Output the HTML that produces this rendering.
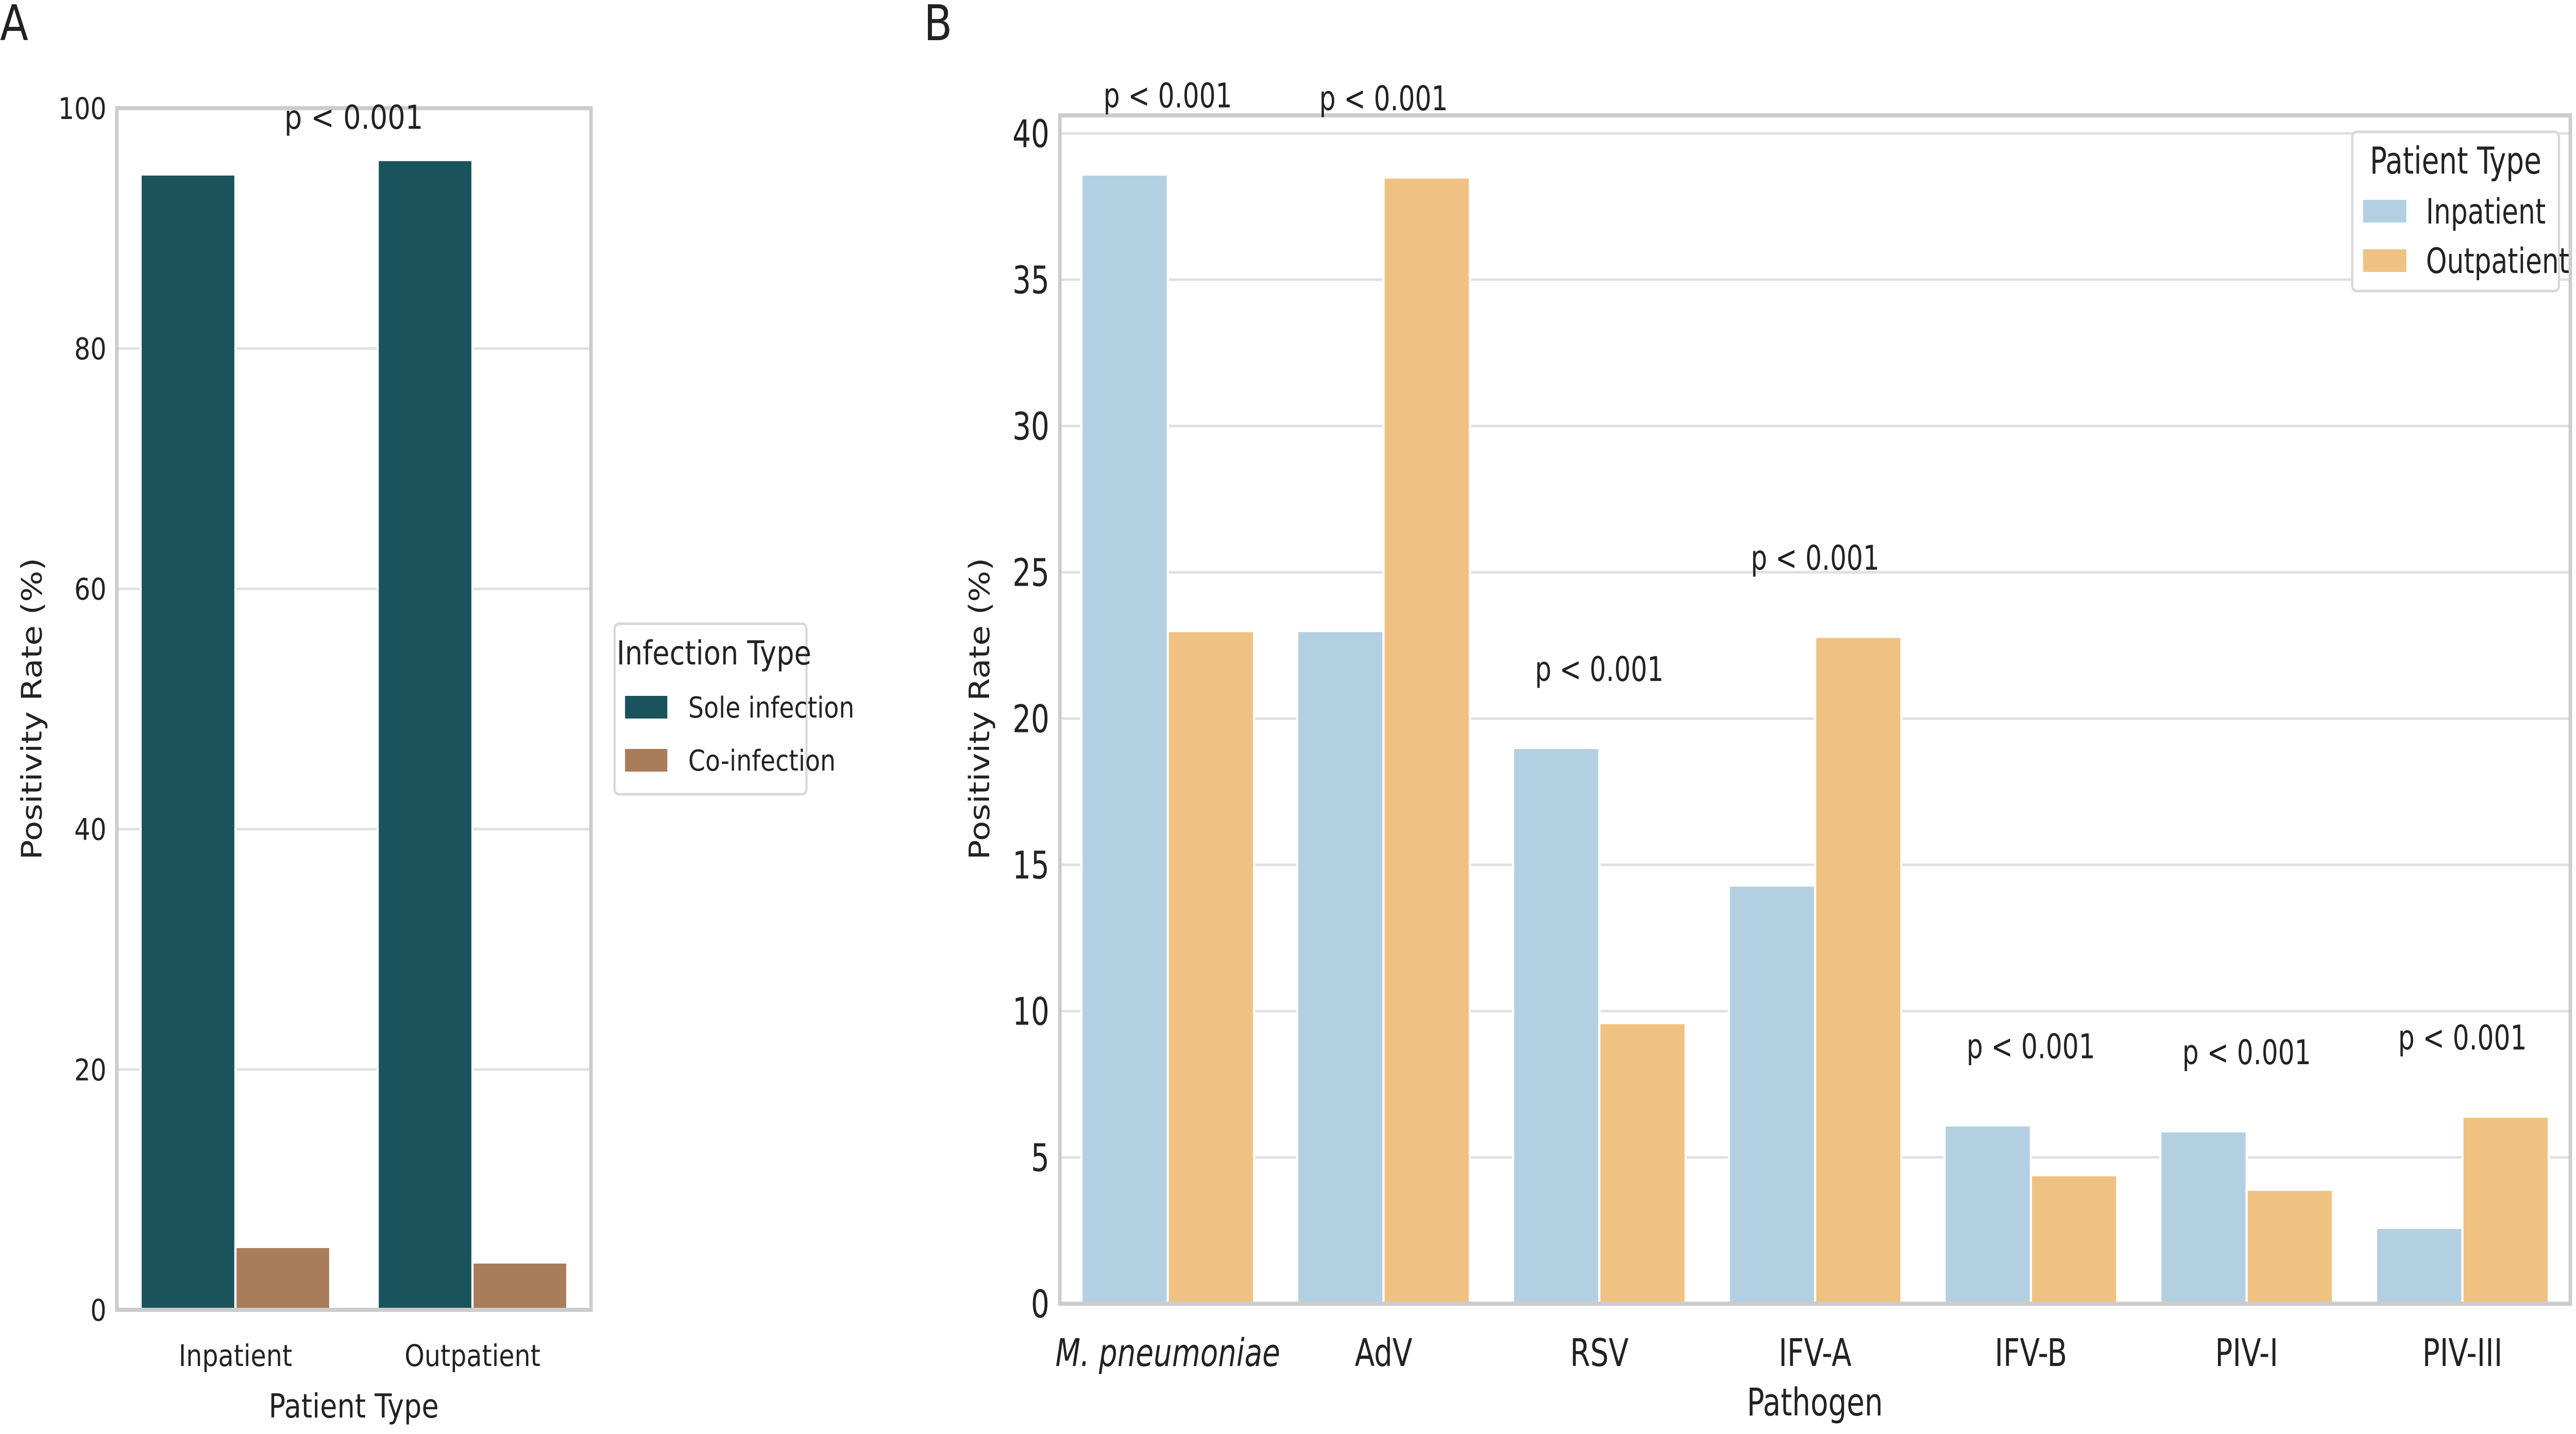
<!DOCTYPE html>
<html><head><meta charset="utf-8"><style>
html,body{margin:0;padding:0;background:#fff;width:100%;height:100%;overflow:hidden;}
svg{display:block;width:100vw;height:100vh;}
.dj{font-family:"DejaVu Sans","Liberation Sans",sans-serif;fill:#222;}
.cd{font-family:"DejaVu Sans Condensed","DejaVu Sans","Liberation Sans",sans-serif;fill:#222;}
</style></head><body>
<svg id="fig" xmlns="http://www.w3.org/2000/svg" viewBox="0 0 5906 2784" preserveAspectRatio="none">
<rect width="5906" height="2784" fill="#fff"/>
<text x="0" y="78" class="dj" font-size="95">A</text>
<text x="2118" y="78" class="dj" font-size="95">B</text>
<g id="gA"></g>
<g id="gB"></g>
</svg>
<script>
// Panel A data
const aCategories = ["Inpatient", "Outpatient"];
const aSole = [94.5, 95.7];
const aCo = [5.25, 3.96];
const aTicks = [0, 20, 40, 60, 80, 100];
// Panel B data
const bCategories = ["M. pneumoniae", "AdV", "RSV", "IFV-A", "IFV-B", "PIV-I", "PIV-III"];
const bInpatient = [38.6, 23.0, 19.0, 14.3, 6.1, 5.9, 2.6];
const bOutpatient = [23.0, 38.5, 9.6, 22.8, 4.4, 3.9, 6.4];
const bTicks = [0, 5, 10, 15, 20, 25, 30, 35, 40];
const bPLabels = ["p < 0.001","p < 0.001","p < 0.001","p < 0.001","p < 0.001","p < 0.001","p < 0.001"];

const NS = "http://www.w3.org/2000/svg";
function mk(parent, tag, attrs, txt){
  const e = document.createElementNS(NS, tag);
  for (const k in attrs) e.setAttribute(k, attrs[k]);
  if (txt !== undefined) e.textContent = txt;
  parent.appendChild(e);
  return e;
}

function panel(g, o){
  const yS = v => o.bottom - (v - o.ymin) / (o.ymax - o.ymin) * (o.bottom - o.ymaxY);
  const n = o.cats.length;
  const bw = (o.right - o.left) / n;
  const xC = i => o.left + bw * (i + 0.5);
  o.ticks.forEach(t => {
    const y = yS(t);
    const l = mk(g, "line", {x1:o.left, x2:o.right, y1:y, y2:y, stroke:"#e0e0e0", "stroke-width":5});
    
    
    const tx = mk(g, "text", {x:o.left - 24, y:y + o.tickFs*0.36, "text-anchor":"end", "font-size":o.tickFs, class:o.tickCls}, String(t));
    
    
  });
  const bar = bw * 0.8 / 2;
  o.series.forEach((s, si) => {
    s.vals.forEach((v, i) => {
      const x = xC(i) - bar + si * bar;
      const y = yS(v);
      const r = mk(g, "rect", {x:x, y:y, width:bar, height:yS(0) - y, fill:s.color, stroke:"#fff", "stroke-width":5});
      
      
    });
  });
  const sp = mk(g, "rect", {x:o.left, y:o.top, width:o.right - o.left, height:o.bottom - o.top, fill:"none", stroke:"#cccccc", "stroke-width":8});
  
  
  o.cats.forEach((c, i) => {
    const t = mk(g, "text", {x:xC(i), y:o.xTickY, "text-anchor":"middle", "font-size":o.tickFs, class:o.tickCls}, c);
    if (o.italicFirst && i === 0) t.setAttribute("font-style", "italic");
    
    
  });
  return {xC, yS};
}

(function(){
  const g = document.getElementById("gA");
  const o = {left:268, right:1355, top:210, bottom:2543, ymaxY:210, ymin:0, ymax:100,
    cats:aCategories, ticks:aTicks, tickFs:58, tickCls:"dj", xTickY:2652,
    series:[{key:"sole", vals:aSole, color:"#1b535d"}, {key:"co", vals:aCo, color:"#a97c5a"}]};
  panel(g, o);
  let t = mk(g, "text", {x:811, y:250, "text-anchor":"middle", "font-size":64, class:"dj"}, "p < 0.001");
  
  
  t = mk(g, "text", {x:811, y:2752, "text-anchor":"middle", "font-size":64, class:"dj"}, "Patient Type");
  
  
  t = mk(g, "text", {x:0, y:0, "text-anchor":"middle", "font-size":64, class:"dj", transform:"translate(95,1376) rotate(-90)"}, "Positivity Rate (%)");
  
  
  const lg = mk(g, "g", {});
  
  
  mk(lg, "rect", {x:1409, y:1211, width:440, height:331, rx:10, fill:"#fff", stroke:"#d8d8d8", "stroke-width":5});
  mk(lg, "text", {x:1637, y:1290, "text-anchor":"middle", "font-size":64, class:"dj"}, "Infection Type");
  const items = [["Sole infection","#1b535d"],["Co-infection","#a97c5a"]];
  items.forEach((it, i) => {
    const y = 1373 + i * 103;
    const e = mk(lg, "g", {});
    
    
    mk(e, "rect", {x:1433, y:y - 22, width:97, height:44, fill:it[1]});
    mk(e, "text", {x:1578, y:y + 20, "font-size":56, class:"dj"}, it[0]);
  });
})();

(function(){
  const g = document.getElementById("gB");
  const o = {left:2430, right:5893, top:224, bottom:2531, ymaxY:259, ymin:0, ymax:40,
    cats:bCategories, ticks:bTicks, tickFs:74, tickCls:"cd", xTickY:2652, italicFirst:true,
    series:[{key:"inpatient", vals:bInpatient, color:"#b3d0e2"}, {key:"outpatient", vals:bOutpatient, color:"#f0c281"}]};
  const ax = panel(g, o);
  bPLabels.forEach((p, i) => {
    const top = Math.max(bInpatient[i], bOutpatient[i]);
    const t = mk(g, "text", {x:ax.xC(i), y:ax.yS(top) - 130, "text-anchor":"middle", "font-size":66, class:"cd"}, p);
    
    
  });
  let t = mk(g, "text", {x:4161, y:2748, "text-anchor":"middle", "font-size":74, class:"cd"}, "Pathogen");
  
  
  t = mk(g, "text", {x:0, y:0, "text-anchor":"middle", "font-size":64, class:"dj", transform:"translate(2268,1376) rotate(-90)"}, "Positivity Rate (%)");
  
  
  const lg = mk(g, "g", {});
  
  
  mk(lg, "rect", {x:5393, y:256, width:474, height:309, rx:10, fill:"#fff", stroke:"#d8d8d8", "stroke-width":5});
  mk(lg, "text", {x:5630, y:337, "text-anchor":"middle", "font-size":72, class:"cd"}, "Patient Type");
  const items = [["Inpatient","#b3d0e2"],["Outpatient","#f0c281"]];
  items.forEach((it, i) => {
    const y = 410 + i * 96;
    const e = mk(lg, "g", {});
    
    
    mk(e, "rect", {x:5418, y:y - 22, width:99, height:44, fill:it[1]});
    mk(e, "text", {x:5562, y:y + 24, "font-size":68, class:"cd"}, it[0]);
  });
})();
</script>
</body></html>
